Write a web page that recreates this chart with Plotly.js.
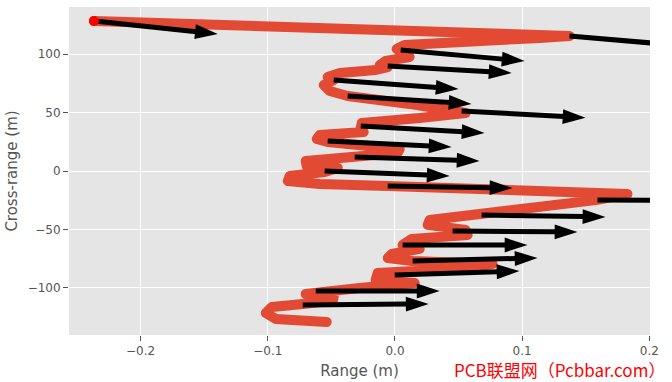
<!DOCTYPE html>
<html><head><meta charset="utf-8">
<script src="https://cdn.plot.ly/plotly-3.0.1.min.js"></script>
<style>
html,body{margin:0;padding:0;background:#fff;}
#chart{width:672px;height:382px;}
.scatterlayer .trace:first-child .js-line{stroke-linejoin:round !important;stroke-linecap:round !important;}
</style></head><body>
<div id="chart"></div>
<script>
// Trajectory (range, cross-range)
const pathX = [-0.2367,0.1372,0.1137,0.0665,0.0076,0.0013,0.0045,0.0115,-0.0073,-0.0120,-0.0057,-0.0152,-0.0434,-0.0529,-0.0482,-0.0560,-0.0513,-0.0372,0.0115,0.0524,0.0555,0.0194,-0.0261,-0.0269,-0.0246,-0.0592,-0.0615,-0.0529,0.0037,0.0021,-0.0309,-0.0513,-0.0702,-0.0694,-0.0450,-0.0553,-0.0828,-0.0843,-0.0592,-0.0057,0.0822,0.1828,0.1592,0.1081,0.0681,0.0272,0.0257,0.0555,0.0571,0.0131,0.0060,0.0194,-0.0026,-0.0057,0.0139,0.0767,0.0587,0.0037,-0.0136,-0.0152,0.0155,-0.0278,-0.0623,-0.0702,-0.0482,-0.0489,-0.0725,-0.0969,-0.1016,-0.0937,-0.0537];
const pathY = [128.5,115.7,114.0,111.4,108.0,104.5,102.8,97.7,94.3,90.8,89.1,86.6,84.0,80.6,78.0,73.7,68.6,64.3,57.5,51.5,49.7,45.5,41.2,36.9,33.5,30.9,27.5,24.9,18.9,15.5,12.9,10.4,8.6,4.4,2.7,-0.8,-4.2,-8.5,-11.0,-12.8,-15.3,-19.6,-24.7,-30.7,-36.7,-41.9,-46.1,-50.4,-54.7,-58.1,-63.3,-66.7,-71.0,-74.4,-77.0,-79.5,-83.0,-85.5,-87.2,-93.2,-95.8,-100.1,-102.7,-105.2,-107.8,-111.2,-113.8,-116.4,-121.5,-126.6,-129.2];

// Quiver arrows: tail positions and vector components
const arrowX = [-0.2360,0.1372,0.0045,-0.0057,-0.0482,-0.0372,0.0524,-0.0269,-0.0529,-0.0317,-0.0553,-0.0057,0.1592,0.0681,0.0453,0.0060,0.0139,-0.0002,-0.0623,-0.0725];
const arrowY = [128.5,115.7,103.7,90.0,78.0,64.3,51.5,38.6,25.8,12.1,0.1,-12.8,-24.7,-37.6,-51.3,-63.3,-77.0,-89.0,-102.7,-114.7];
const arrowU = [0.0967,0.0963,0.0974,0.0974,0.0982,0.0974,0.0974,0.0973,0.0974,0.0982,0.0983,0.0981,0.0974,0.0974,0.0982,0.0982,0.0982,0.0981,0.0974,0.0990];
const arrowV = [-11.1,-9.0,-9.5,-6.0,-7.7,-6.8,-5.9,-6.0,-5.2,-3.5,-4.3,-1.7,-0.9,-1.7,-0.9,0.0,2.6,3.4,0.0,0.9];

const xTickVals = [-0.2,-0.1,0,0.1,0.2];
const xTickText = ['\u22120.2','\u22120.1','0.0','0.1','0.2'];
const yTickVals = [-100,-50,0,50,100];
const yTickText = ['\u2212100','\u221250','0','50','100'];

const ax = [], ay = [], asz = [];
for (let i = 0; i < arrowX.length; i++) {
  ax.push(arrowX[i], arrowX[i] + arrowU[i], null);
  ay.push(arrowY[i], arrowY[i] + arrowV[i], null);
  asz.push(0, 24, 0);
}

const traces = [
  {x: pathX, y: pathY, type: 'scatter', mode: 'lines',
   line: {color: '#E24A33', width: 10}, hoverinfo: 'skip'},
  {x: ax, y: ay, type: 'scatter', mode: 'lines+markers',
   line: {color: '#000000', width: 5},
   marker: {symbol: 'arrow', angleref: 'previous', size: asz, color: '#000000', opacity: 1, line: {width: 0}},
   hoverinfo: 'skip'},
  {x: [pathX[0]], y: [pathY[0]], type: 'scatter', mode: 'markers',
   marker: {size: 10, color: '#ff0000', opacity: 1, line: {width: 0}}, hoverinfo: 'skip'}
];

const axisCommon = {
  ticks: 'outside', ticklen: 5, tickwidth: 1, tickcolor: '#555555',
  gridcolor: '#ffffff', gridwidth: 1, zeroline: false, showline: false,
  tickfont: {family: 'DejaVu Sans', size: 12, color: '#555555'}, fixedrange: true
};

const layout = {
  width: 672, height: 382,
  margin: {l: 69, r: 21.5, t: 7, b: 47, pad: 0},
  paper_bgcolor: '#ffffff', plot_bgcolor: '#E5E5E5',
  showlegend: false,
  font: {family: 'DejaVu Sans', color: '#555555', size: 12},
  xaxis: Object.assign({}, axisCommon, {
    range: [-0.2563, 0.2005], tickmode: 'array', tickvals: xTickVals, ticktext: xTickText,
    title: {text: 'Range (m)', font: {family: 'DejaVu Sans', size: 15, color: '#555555'}, standoff: 8}
  }),
  yaxis: Object.assign({}, axisCommon, {
    range: [-140.4, 140.5], tickmode: 'array', tickvals: yTickVals, ticktext: yTickText,
    title: {text: 'Cross-range (m)', font: {family: 'DejaVu Sans', size: 15, color: '#555555'}, standoff: 6}
  }),
  annotations: [{
    text: 'PCB联盟网（Pcbbar.com）', xref: 'paper', yref: 'paper',
    x: 1.030, y: -0.106, xanchor: 'right', yanchor: 'middle', showarrow: false,
    font: {family: 'Noto Sans CJK SC', size: 17, color: '#ff0000'}
  }]
};

Plotly.newPlot('chart', traces, layout, {staticPlot: true, displayModeBar: false});
</script>
</body></html>
